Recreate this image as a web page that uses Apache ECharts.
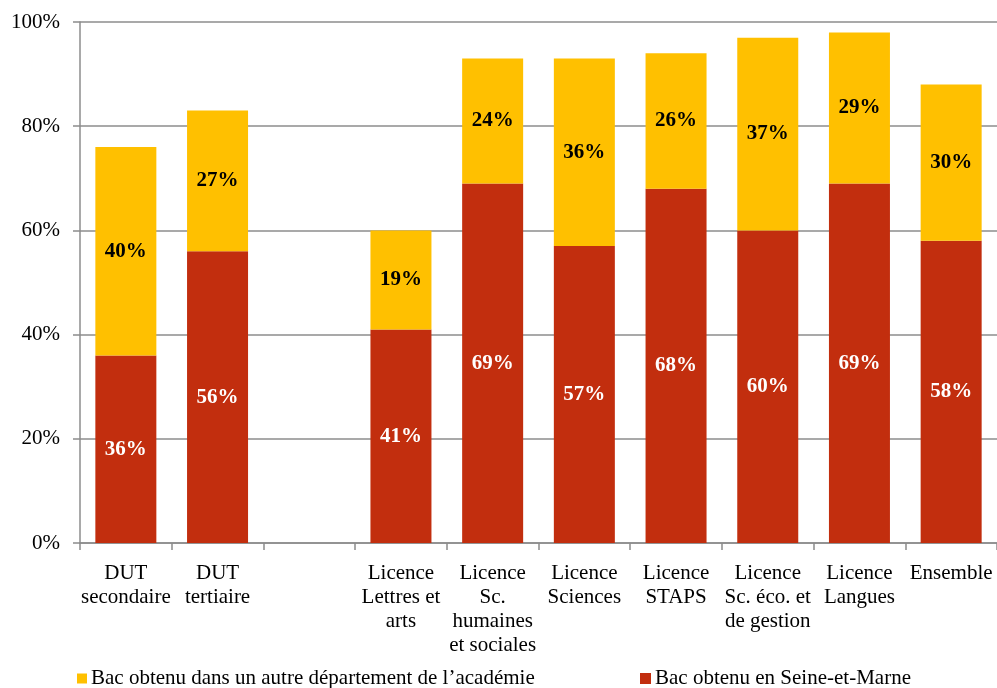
<!DOCTYPE html>
<html><head><meta charset="utf-8">
<script src="https://cdn.jsdelivr.net/npm/echarts@6/dist/echarts.min.js"></script>
<style>html,body{margin:0;padding:0;background:#fff}#c{width:997px;height:688px}</style>
</head><body><div id="c"></div>
<script>
const categories = ["DUT\nsecondaire","DUT\ntertiaire","","Licence\nLettres et\narts","Licence\nSc.\nhumaines\net sociales","Licence\nSciences","Licence\nSTAPS","Licence\nSc. éco. et\nde gestion","Licence\nLangues","Ensemble"];
const seineEtMarne = [36,56,null,41,69,57,68,60,69,58];
const autreDepartement = [40,27,null,19,24,36,26,37,29,30];
const nameRed = "Bac obtenu en Seine-et-Marne";
const nameYellow = "Bac obtenu dans un autre département de l’académie";
const FONT = "Liberation Serif";
const chart = echarts.init(document.getElementById('c'));
chart.setOption({
  animation:false,
  textStyle:{fontFamily:FONT},
  grid:{left:80,right:0,top:22,bottom:145,containLabel:false},
  legend:[
    {data:[nameYellow],left:72,top:663,itemWidth:10,itemHeight:10,icon:'rect',itemGap:5,textStyle:{fontFamily:FONT,fontSize:21,color:'#000',padding:[0,0,0,-1]}},
    {data:[nameRed],left:635,top:663,itemWidth:11,itemHeight:11,icon:'rect',textStyle:{fontFamily:FONT,fontSize:21,color:'#000',padding:[0,0,0,-1]}}
  ],
  xAxis:{type:'category',data:categories,
    axisLine:{lineStyle:{color:'#8c8c8c',width:1.5}},
    axisTick:{show:true,length:7,lineStyle:{color:'#8c8c8c',width:1.5}},
    axisLabel:{interval:0,margin:18,fontFamily:FONT,fontSize:21,color:'#000',lineHeight:24}},
  yAxis:{type:'value',min:0,max:100,interval:20,
    axisLine:{show:true,lineStyle:{color:'#8c8c8c',width:1.5}},
    axisTick:{show:true,length:7,lineStyle:{color:'#8c8c8c',width:1.5}},
    splitLine:{lineStyle:{color:'#8c8c8c',width:1.5}},
    axisLabel:{formatter:'{value}%',margin:20,fontFamily:FONT,fontSize:21,color:'#000'}},
  series:[
    {name:nameRed,type:'bar',stack:'a',data:seineEtMarne,barWidth:61,itemStyle:{color:'#C22E0E'},
     label:{show:true,position:'inside',formatter:'{c}%',color:'#fff',fontFamily:FONT,fontWeight:'bold',fontSize:21}},
    {name:nameYellow,type:'bar',stack:'a',data:autreDepartement,barWidth:61,itemStyle:{color:'#FFC000'},
     label:{show:true,position:'inside',formatter:'{c}%',color:'#000',fontFamily:FONT,fontWeight:'bold',fontSize:21}}
  ]
});
</script></body></html>
